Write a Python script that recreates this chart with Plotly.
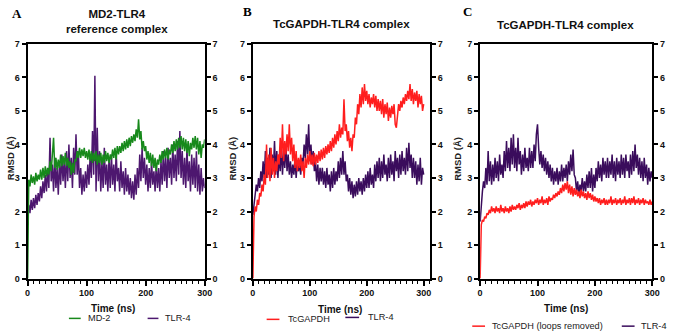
import plotly.graph_objects as go

TIME = list(range(0, 301, 2))

A_MD2 = [0,
 2.95,2.75,3.1,2.85,3.05,2.8,3.15,2.9,3.1,2.95,
 3.25,2.95,3.3,3.0,3.35,3.05,3.3,3.1,3.5,3.2,
 3.6,4.2,3.3,3.6,3.25,3.55,3.3,3.7,3.35,3.65,
 3.4,3.75,3.35,3.6,3.3,3.5,3.1,3.45,3.15,3.55,
 3.5,3.8,3.6,3.9,3.6,3.85,3.65,3.9,3.6,3.8,
 3.55,3.85,3.5,3.8,3.45,3.75,3.5,3.8,3.4,3.7,
 3.45,3.75,3.4,3.7,3.45,3.8,3.5,3.75,3.45,3.7,
 3.55,3.85,3.6,3.9,3.55,3.95,3.7,3.95,3.75,4.05,
 3.8,4.1,3.85,4.15,3.9,4.2,3.95,4.25,4.05,4.3,
 4.1,4.45,4.2,4.75,4.15,4.4,3.85,4.1,3.8,3.95,
 3.55,3.8,3.45,3.75,3.35,3.7,3.3,3.6,3.2,3.55,
 3.4,3.7,3.45,3.8,3.55,3.85,3.6,3.9,3.55,3.85,
 3.7,4.0,3.75,4.1,3.8,4.15,3.85,4.2,3.9,4.25,
 3.85,4.2,3.8,4.15,3.75,4.1,3.65,4.05,3.85,4.2,
 3.9,4.25,3.85,4.2,3.7,4.1,3.6,4.0,3.9,4.15]

A_TLR4 = [1.9,
 2.2,1.95,2.35,2.05,2.4,2.1,2.5,2.2,2.55,2.3,
 2.75,2.4,2.9,2.55,3.1,2.6,3.3,2.7,4.2,2.9,
 3.4,2.6,3.6,2.7,3.3,2.5,3.5,2.8,3.7,2.9,
 3.5,2.7,3.8,2.9,4.0,3.0,3.6,2.7,3.9,3.1,
 4.3,3.1,3.8,2.7,3.3,2.5,3.1,2.6,3.2,2.7,
 3.4,2.8,3.7,3.0,4.4,3.1,6.05,2.6,4.5,2.9,
 3.8,2.6,3.5,2.7,3.9,2.8,3.4,2.6,3.6,2.7,
 3.7,2.8,3.4,2.6,3.8,2.9,3.3,2.6,3.5,2.7,
 3.2,2.5,3.3,2.6,3.1,2.5,3.0,2.4,2.9,2.35,
 3.1,2.5,3.3,2.7,3.7,2.9,3.9,3.0,3.6,2.8,
 3.4,2.6,3.3,2.7,3.5,2.8,3.2,2.6,3.4,2.7,
 3.3,2.6,3.5,2.8,3.8,2.9,3.6,2.7,3.9,3.0,
 3.6,2.8,4.0,3.0,3.7,2.9,4.1,3.1,4.4,3.0,
 3.8,2.8,3.6,2.7,3.9,2.9,3.5,2.6,3.7,2.8,
 3.6,2.7,3.8,2.6,3.4,2.5,3.3,2.6,3.0,2.7]

B_GAPDH = [0,
 1.85,2.15,2.0,2.35,2.2,2.55,2.45,2.8,2.6,3.1,
 2.8,4.0,3.0,3.7,2.9,3.9,3.1,3.6,3.0,3.5,
 3.2,3.7,3.4,4.2,3.6,4.6,3.5,4.1,3.7,4.3,
 3.8,4.6,3.7,4.2,3.5,4.0,3.3,3.8,3.2,3.6,
 3.3,3.7,3.2,3.5,3.0,3.6,3.3,3.7,3.4,3.8,
 3.4,3.7,3.35,3.75,3.4,3.7,3.45,3.8,3.5,3.85,
 3.55,3.9,3.6,3.95,3.7,4.0,3.75,4.1,3.8,4.2,
 3.9,4.3,4.0,4.4,4.1,4.6,4.2,4.5,4.3,5.35,
 4.4,4.6,4.1,4.4,3.9,4.2,3.8,4.3,4.2,4.8,
 4.6,5.2,4.9,5.5,5.1,5.7,5.2,5.8,5.3,5.6,
 5.2,5.5,5.1,5.4,5.2,5.5,5.1,5.45,5.0,5.35,
 5.0,5.3,4.9,5.35,4.8,5.2,4.9,5.25,4.7,5.1,
 4.8,5.15,4.9,5.2,4.6,4.5,4.9,5.2,5.0,5.3,
 5.1,5.4,5.2,5.5,5.3,5.6,5.35,5.8,5.3,5.65,
 5.2,5.55,5.3,5.6,5.1,5.5,5.2,5.45,5.0,5.2]

B_TLR4 = [1.9,
 2.3,2.5,2.8,2.6,3.0,2.7,3.2,2.9,3.5,3.0,
 3.8,3.0,3.6,3.1,3.9,3.0,3.7,3.2,4.1,3.1,
 3.8,3.0,3.7,3.2,3.9,3.1,3.8,3.3,4.0,3.2,
 3.7,3.1,3.5,3.0,3.4,3.1,3.6,3.0,3.5,3.2,
 3.4,3.1,3.6,3.4,4.0,3.6,4.3,3.7,4.6,3.5,
 4.0,3.4,3.8,3.2,3.5,2.9,3.4,2.8,3.3,2.9,
 3.3,2.8,3.2,2.7,3.3,2.8,3.1,2.6,3.2,2.7,
 3.3,2.8,3.2,2.9,3.5,3.0,3.6,3.1,3.8,3.1,
 3.5,2.9,3.1,2.6,3.0,2.5,2.9,2.4,2.8,2.45,
 2.9,2.5,3.0,2.6,2.9,2.5,3.0,2.6,3.1,2.7,
 3.2,2.7,3.3,2.8,3.1,2.7,3.4,2.9,3.5,3.0,
 3.6,2.9,3.5,3.0,3.7,3.1,3.4,2.9,3.6,3.0,
 3.7,3.1,3.5,2.9,3.8,3.2,3.6,3.0,3.7,3.1,
 3.8,3.2,3.6,3.1,3.9,3.2,4.05,3.3,3.7,3.0,
 3.6,3.0,3.5,2.8,3.4,2.9,3.6,2.8,3.3,3.1]

C_GAPDH = [0,
 1.6,1.75,1.7,1.85,1.8,1.95,1.9,2.05,1.95,2.15,
 2.0,2.1,1.95,2.15,2.0,2.1,1.95,2.2,2.0,2.1,
 1.95,2.15,2.0,2.1,1.95,2.15,2.0,2.2,2.05,2.15,
 2.05,2.2,2.1,2.25,2.05,2.2,2.1,2.25,2.1,2.3,
 2.15,2.3,2.2,2.35,2.15,2.3,2.2,2.35,2.25,2.4,
 2.2,2.35,2.25,2.45,2.2,2.35,2.25,2.4,2.2,2.45,
 2.3,2.4,2.35,2.5,2.4,2.55,2.45,2.6,2.5,2.7,
 2.55,2.8,2.6,2.85,2.65,2.9,2.55,2.8,2.5,2.75,
 2.45,2.7,2.5,2.65,2.45,2.6,2.4,2.65,2.45,2.6,
 2.4,2.55,2.35,2.6,2.4,2.55,2.35,2.5,2.3,2.45,
 2.3,2.4,2.25,2.4,2.2,2.35,2.25,2.4,2.2,2.35,
 2.2,2.35,2.25,2.45,2.2,2.35,2.25,2.4,2.2,2.35,
 2.25,2.4,2.2,2.35,2.25,2.45,2.2,2.35,2.25,2.4,
 2.2,2.4,2.25,2.45,2.2,2.35,2.25,2.4,2.2,2.35,
 2.25,2.4,2.2,2.35,2.25,2.3,2.2,2.35,2.2,2.3]

C_TLR4 = [1.7,
 2.3,2.6,2.9,2.7,3.3,2.8,3.8,2.9,3.5,2.8,
 3.4,2.9,3.6,3.0,3.5,2.9,3.7,3.1,3.4,3.0,
 3.8,3.2,4.1,3.3,3.9,3.2,4.2,3.4,4.3,3.3,
 3.9,3.2,4.2,3.4,3.8,3.1,3.7,3.2,3.9,3.3,
 3.6,3.2,3.9,3.3,3.8,3.3,4.0,3.5,4.3,4.6,
 3.9,3.4,3.8,3.3,3.7,3.2,3.6,3.1,3.5,3.0,
 3.4,2.9,3.3,2.8,3.2,2.9,3.3,2.8,3.2,2.9,
 3.4,2.9,3.3,3.0,3.4,2.9,3.5,3.1,3.7,3.2,
 3.85,3.1,3.0,2.6,2.9,2.5,2.8,2.6,3.0,2.6,
 2.9,2.6,3.1,2.7,3.2,2.7,3.3,2.6,3.1,2.7,
 3.3,2.9,3.5,3.0,3.4,2.9,3.6,3.1,3.5,3.0,
 3.6,3.0,3.5,3.1,3.7,3.0,3.5,2.9,3.6,3.1,
 3.5,3.0,3.7,3.1,3.6,3.0,3.7,3.2,3.5,3.0,
 3.7,3.1,3.8,3.2,4.0,3.3,3.7,3.1,3.6,3.0,
 3.5,2.9,3.6,3.0,3.4,2.8,3.3,2.9,3.2,3.0]

PANEL_LETTERS = ["A", "B", "C"]
PANEL_TITLES = ["MD2-TLR4<br>reference complex", "TcGAPDH-TLR4 complex", "TcGAPDH-TLR4 complex"]
LEGEND_NAMES = [["MD-2", "TLR-4"], ["TcGAPDH", "TLR-4"], ["TcGAPDH (loops removed)", "TLR-4"]]
Y_TICKS = [0, 1, 2, 3, 4, 5, 6, 7]
X_TICKS = [0, 100, 200, 300]

GREEN = "#17891b"
PURPLE_A = "#4d176f"
PURPLE = "#3a0c5c"
RED = "#ff1e1e"

W, H = 677, 336
def px(x):
    return x / W
def py(y):
    return 1 - y / H

FONT = "Liberation Sans, Arial, sans-serif"

fig = go.Figure()

panels = [
    dict(x="x", y="y", s=[(A_TLR4, PURPLE_A), (A_MD2, GREEN)], xr=[0, 300], dom=(25, 205)),
    dict(x="x2", y="y2", s=[(B_TLR4, PURPLE), (B_GAPDH, RED)], xr=[0, 311], dom=(254, 434)),
    dict(x="x3", y="y3", s=[(C_TLR4, PURPLE), (C_GAPDH, RED)], xr=[0, 300], dom=(485, 660)),
]

for i, p in enumerate(panels):
    for vals, col in p["s"]:
        fig.add_trace(go.Scatter(x=TIME, y=vals, mode="lines", xaxis=p["x"], yaxis=p["y"],
                                 line=dict(color=col, width=1.5), showlegend=False,
                                 hoverinfo="skip"))

axis_common = dict(showgrid=False, zeroline=False, showline=True, linecolor="black", linewidth=2,
                   ticks="outside", tickcolor="black", tickwidth=1.5,
                   tickfont=dict(family=FONT, size=9, color="#111", weight="bold"))

ydom = [py(282), py(40)]
layout = dict(width=W, height=H, margin=dict(l=0, r=0, t=0, b=0),
              paper_bgcolor="white", plot_bgcolor="white", showlegend=False)
for i, p in enumerate(panels):
    n = "" if i == 0 else str(i + 1)
    layout["xaxis" + n] = dict(axis_common, domain=[px(p["dom"][0]), px(p["dom"][1])],
                               range=p["xr"], tickvals=X_TICKS, ticklen=5, mirror=True,
                               anchor="y" + n,
                               minor=dict(dtick=10, tick0=0, ticks="outside", ticklen=3,
                                          tickcolor="black", tickwidth=1))
    layout["yaxis" + n] = dict(axis_common, domain=ydom, range=[0, 7], tickvals=Y_TICKS,
                               ticklen=4, anchor="x" + n)
    rn = str(i + 4)
    layout["yaxis" + rn] = dict(axis_common, domain=ydom, range=[0, 7], tickvals=Y_TICKS,
                                ticklen=4, anchor="x" + n, overlaying="y" + n, side="right")

fig.update_layout(**layout)

for i, p in enumerate(panels):
    fig.add_trace(go.Scatter(x=[None], y=[None], xaxis=p["x"], yaxis="y" + str(i + 4),
                             showlegend=False, hoverinfo="skip"))

def note(x, y, text, size, weight="normal", family=FONT, anchor="center", angle=0, color="#111"):
    return dict(x=px(x), y=py(y), xref="paper", yref="paper", text=text, showarrow=False,
                xanchor=anchor, yanchor="middle", textangle=angle,
                font=dict(family=family, size=size, color=color, weight=weight))

ann = []
letter_pos = [(14, 9), (249, 7), (472, 7)]
for (lx, ly), letter in zip(letter_pos, PANEL_LETTERS):
    ann.append(note(lx, ly, letter, 13, "bold", "Liberation Serif, Times New Roman, serif", color="black"))
title_pos = [(116, 17), (344, 20), (572, 21)]
for (tx, ty), t in zip(title_pos, PANEL_TITLES):
    ann.append(note(tx, ty, t, 11.5, "bold"))
for rx in [7, 233, 462]:
    ann.append(note(rx, 158, "RMSD (Å)", 9.5, "bold", angle=-90, color="#222"))
for tx, ty in [(112, 313), (343, 314), (572, 313)]:
    ann.append(note(tx, ty, "Time (ns)", 10, "bold"))

legend_items = [
    (67, 79, 323, GREEN, 84, LEGEND_NAMES[0][0]),
    (147, 158, 323, PURPLE_A, 163, LEGEND_NAMES[0][1]),
    (268, 281, 324, RED, 288, LEGEND_NAMES[1][0]),
    (348, 362, 322, PURPLE, 369, LEGEND_NAMES[1][1]),
    (477, 490, 331, RED, 495, LEGEND_NAMES[2][0]),
    (629, 642, 331, PURPLE, 647, LEGEND_NAMES[2][1]),
]
shapes = []
for x0, x1, y, col, tx, name in legend_items:
    shapes.append(dict(type="line", xref="paper", yref="paper", x0=px(x0), x1=px(x1),
                       y0=py(y), y1=py(y), line=dict(color=col, width=1.5)))
    ann.append(note(tx, y, name, 9.2, anchor="left", color="#222"))

fig.update_layout(annotations=ann, shapes=shapes)
fig.write_html("out.html")
